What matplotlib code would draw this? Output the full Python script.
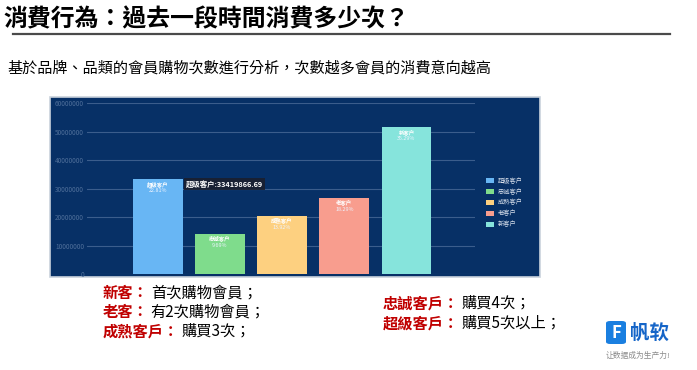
import matplotlib
matplotlib.use("Agg")
import matplotlib.pyplot as plt
from matplotlib.patches import Rectangle, FancyBboxPatch
from matplotlib.lines import Line2D

plt.rcParams['font.family'] = ['Noto Sans CJK TC', 'DejaVu Sans']

# data
categories = ['超级客户', '忠诚客户', '成熟客户', '老客户', '新客户']
values = [33419866.69, 14200000, 20400000, 26800000, 51700000]
colors = ['#68b6f4', '#7fdc8c', '#fdd080', '#f89d8e', '#86e4dc']
yticks = [0, 10000000, 20000000, 30000000, 40000000, 50000000, 60000000]

title = '消費行為：過去一段時間消費多少次？'
subtitle = '基於品牌、品類的會員購物次數進行分析，次數越多會員的消費意向越高'
notes_left = [('新客：', '首次購物會員；'), ('老客：', '有2次購物會員；'), ('成熟客戶：', '購買3次；')]
notes_right = [('忠誠客戶：', '購買4次；'), ('超級客戶：', '購買5次以上；')]

W, H = 697, 370
fig = plt.figure(figsize=(W / 100, H / 100), dpi=100)


def fx(px):
    return px / W


def fy(py):
    return 1 - py / H


# header
fig.text(fx(3), fy(19), title, fontsize=17.2, fontweight='bold', color='black', va='center')
fig.add_artist(Line2D([fx(13), fx(670)], [fy(34), fy(34)], color='#4a4a4a', lw=1.6))
fig.text(fx(7), fy(68), subtitle, fontsize=10.9, color='black', va='center')

# dark chart panel
fig.add_artist(Rectangle((fx(50), fy(277)), fx(540) - fx(50), fy(97) - fy(277),
                         transform=fig.transFigure, facecolor='#073066',
                         edgecolor='#c9d2dc', lw=1.2, zorder=0))

ax = fig.add_axes([fx(86.7), fy(274), fx(475) - fx(86.7), fy(103.3) - fy(274)])
ax.set_facecolor('none')
x = list(range(len(categories)))
bars = ax.bar(x, values, width=0.8, color=colors, zorder=3)
ax.set_xlim(-1.14, 5.1)
ax.set_ylim(0, 60000000)
ax.set_yticks(yticks)
ax.set_yticklabels([str(v) for v in yticks], fontsize=4.6, color='#4f6f9a')
ax.tick_params(axis='y', length=0, pad=2)
ax.set_xticks([])
ax.grid(axis='y', color='#3b5d8c', lw=0.8, zorder=1)
for s in ax.spines.values():
    s.set_visible(False)

total = sum(values)
for xi, v, name in zip(x, values, categories):
    ax.annotate(name, (xi, v), xytext=(0, -5), textcoords='offset pixels',
                ha='center', va='center', fontsize=3.9, color='white', fontweight='bold',
                family=['Noto Sans CJK SC', 'DejaVu Sans'], zorder=4)
    ax.annotate(f'{v / total * 100:.2f}%', (xi, v), xytext=(0, -12), textcoords='offset pixels',
                ha='center', va='center', fontsize=3.9, color='#eef4ff', zorder=4)

# tooltip on the first bar
ax.annotate(f'{categories[0]}:{values[0]:.2f}', (x[0], values[0]), xytext=(28, -5),
            textcoords='offset pixels', ha='left', va='center', fontsize=5.3,
            color='white', fontweight='bold', family=['Noto Sans CJK SC', 'DejaVu Sans'],
            bbox=dict(boxstyle='square,pad=0.25', fc='#1a1f2e', ec='none', alpha=0.9), zorder=5)

leg = ax.legend(bars, categories, loc='upper left', bbox_to_anchor=(fx(486), fy(177)),
                bbox_transform=fig.transFigure, frameon=False,
                handlelength=1.3, handleheight=0.9, handletextpad=0.6, labelspacing=0.45,
                borderpad=0, borderaxespad=0, prop={'family': ['Noto Sans CJK SC', 'DejaVu Sans'], 'size': 4.5})
for t in leg.get_texts():
    t.set_color('#d6deea')

# notes under the chart
red = '#c00000'


def note(px, py, label, rest):
    t = fig.text(fx(px), fy(py), label, fontsize=11, fontweight='bold', color=red, va='center')
    ax.annotate(rest, xy=(1, 0.5), xycoords=t, xytext=(2, 0), textcoords='offset pixels',
                va='center', ha='left', fontsize=11, color='black', annotation_clip=False)


for i, (lab, rest) in enumerate(notes_left):
    note(103, 293 + 19 * i, lab, rest)
for i, (lab, rest) in enumerate(notes_right):
    note(383, 303 + 20 * i, lab, rest)

# logo
fig.add_artist(FancyBboxPatch((fx(606), fy(344)), fx(626) - fx(606), fy(321) - fy(344),
                              boxstyle='round,pad=0,rounding_size=0.006',
                              transform=fig.transFigure, facecolor='#1a7fe0', edgecolor='none'))
fig.text(fx(616), fy(333), 'F', fontsize=12, fontweight='bold', color='white', ha='center', va='center')
fig.text(fx(630), fy(333), '帆软', fontsize=14, fontweight='bold', color='#1565c8', va='center',
         family=['Noto Sans CJK SC', 'DejaVu Sans'])
fig.text(fx(638), fy(356), '让数据成为生产力!', fontsize=5.6, color='#8a8a8a', ha='center', va='center',
         family=['Noto Sans CJK SC', 'DejaVu Sans'])

fig.savefig('out.png', dpi=100)
